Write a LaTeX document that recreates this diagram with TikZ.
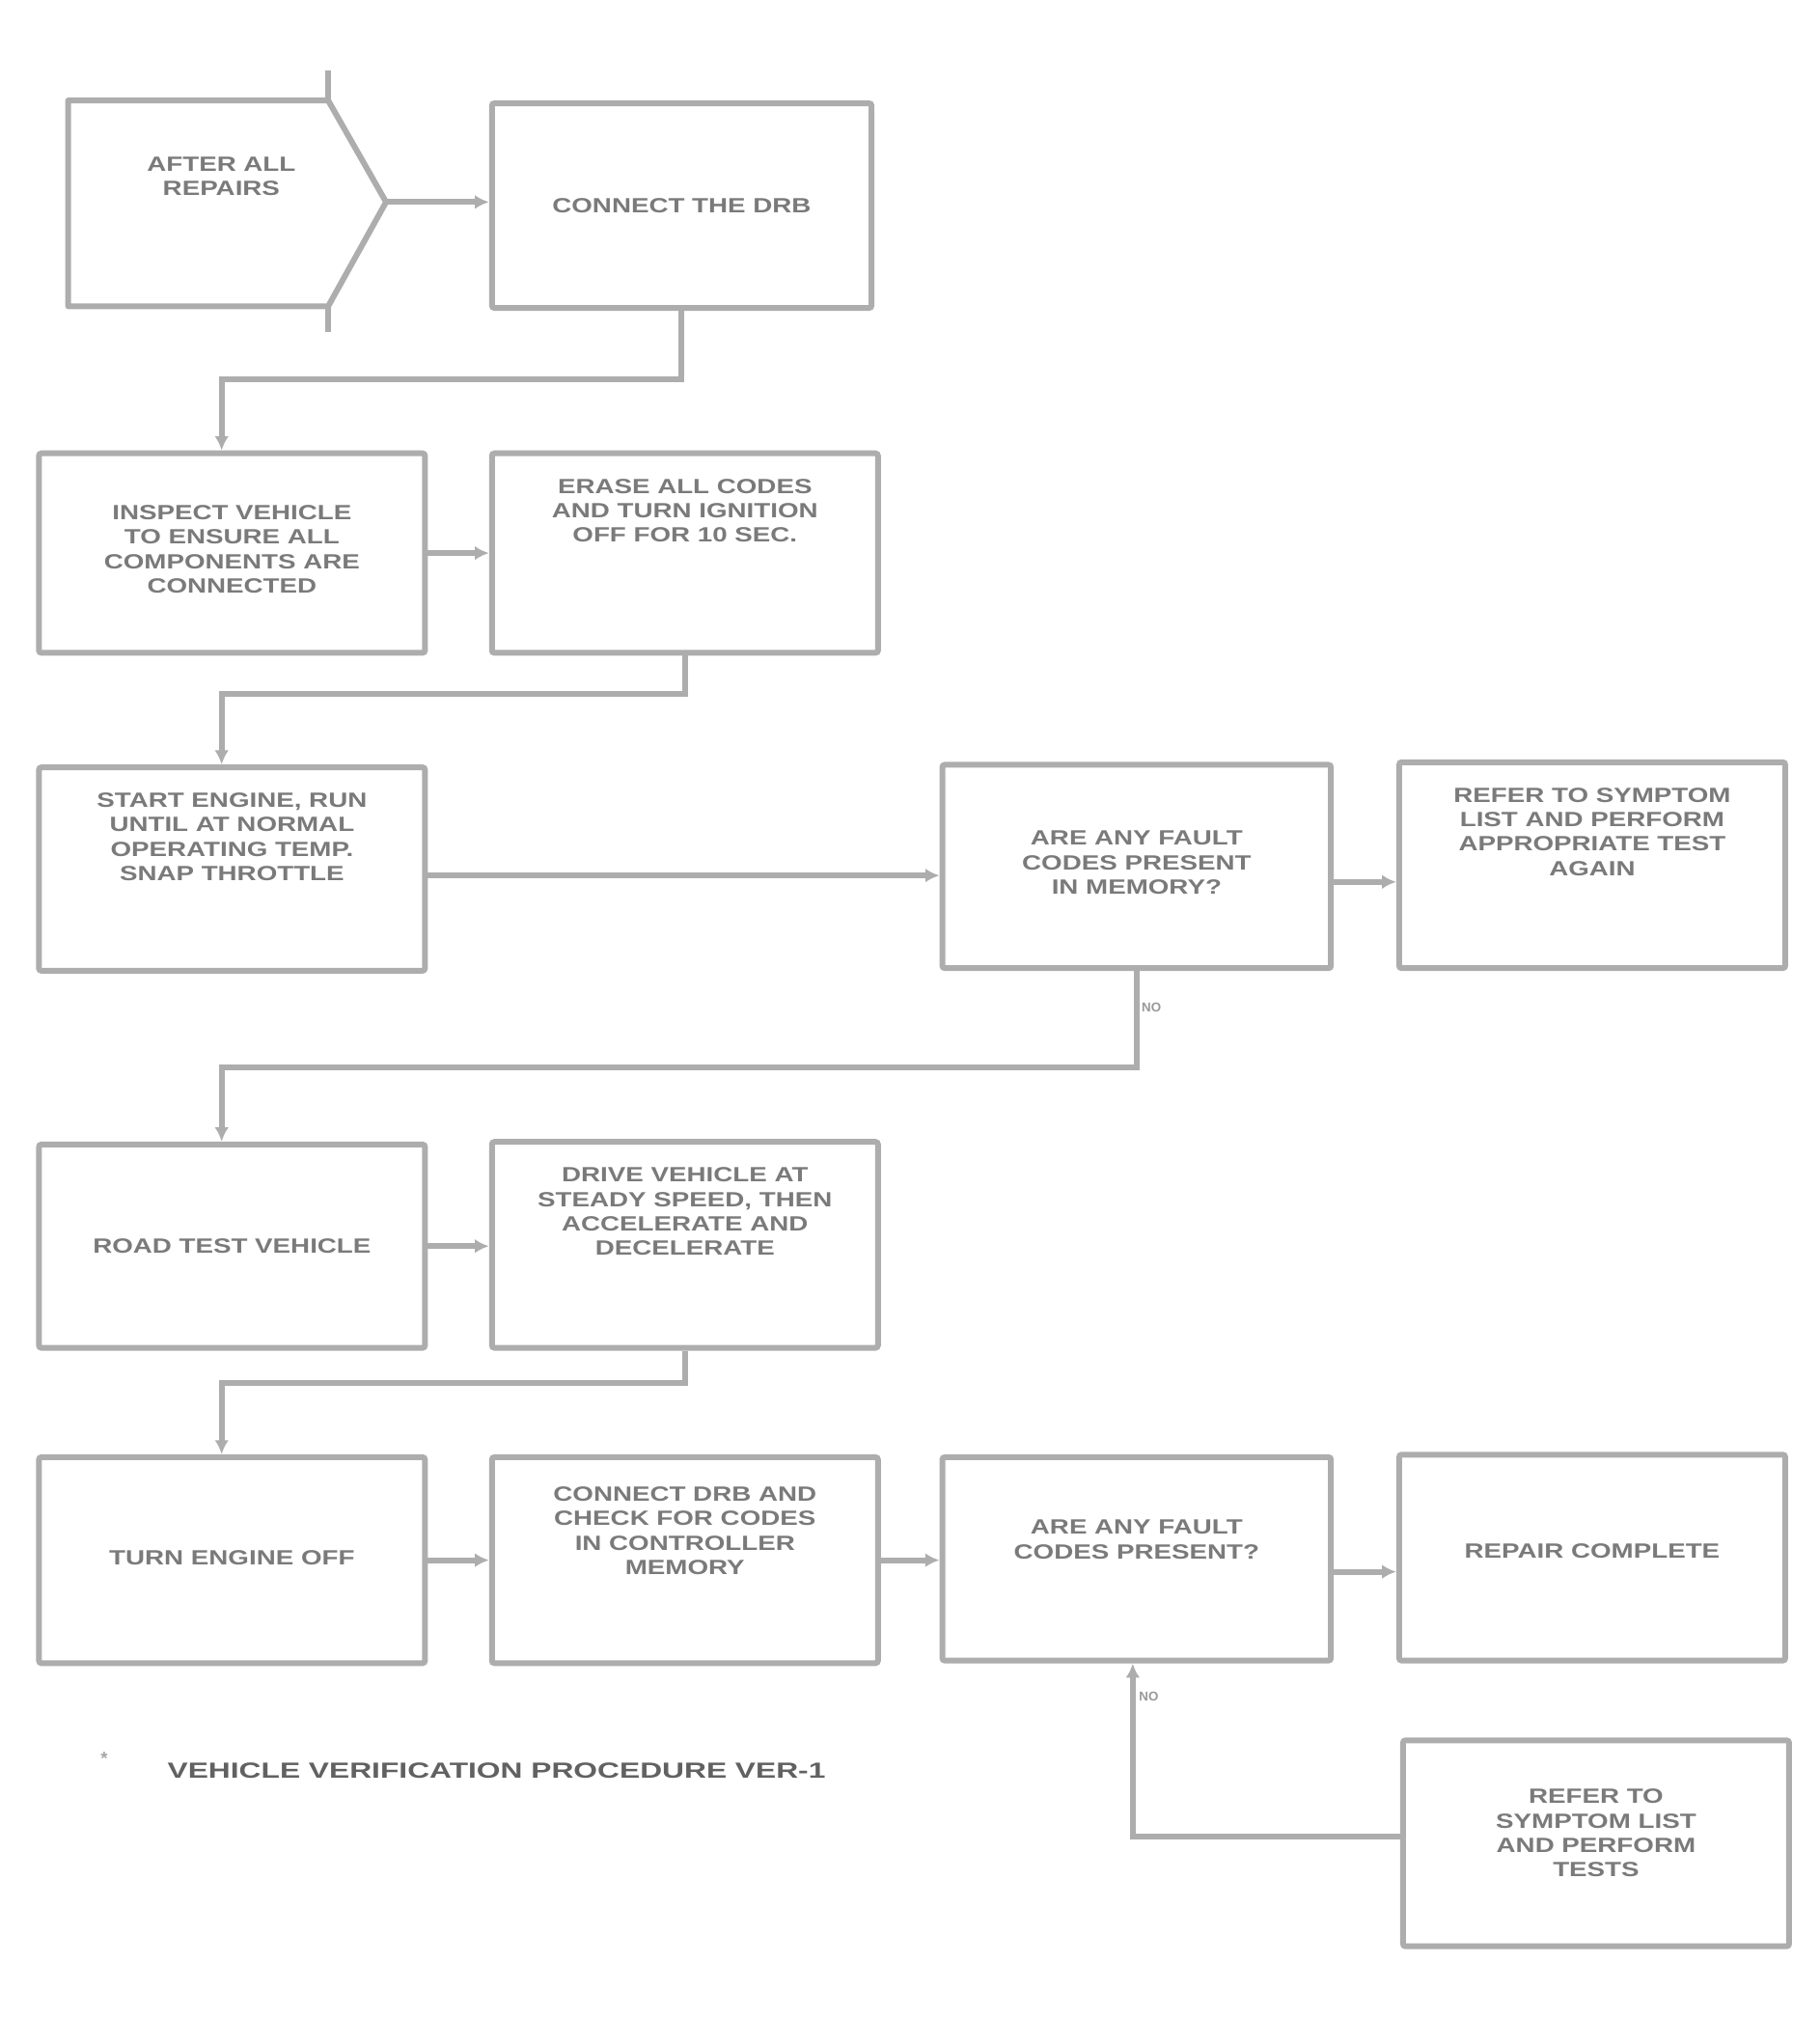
\documentclass[tikz,border=0pt]{standalone}
\usepackage{fontspec}
\setmainfont{Liberation Sans}
\newfontfamily\widefont[FakeStretch=1.3]{Liberation Sans}
\newfontfamily\capfont[FakeStretch=1.4]{Liberation Sans}
\usetikzlibrary{arrows.meta,calc}
\begin{document}
\begin{tikzpicture}[x=1pt,y=-1pt,
  frame/.style={draw=black!32, line width=4.5pt, rounded corners=2pt, minimum width=300pt, minimum height=157pt, inner sep=0pt, anchor=north west},
  txt/.style={font=\widefont\bfseries\fontsize{16}{19}\selectfont, text=black!52, align=center, inner sep=0pt},
  conn/.style={draw=black!32, line width=4.5pt, -{Latex[length=11pt,width=11pt]}},
  small/.style={font=\bfseries\fontsize{10}{11}\selectfont, text=black!40, inner sep=0pt}]
\useasboundingbox (0,0) rectangle (1414,1568);
% entry connector shape
\coordinate (pnw) at (53,78);
\coordinate (ptip) at (300,157);
\draw[draw=black!32, line width=4.5pt, line join=round] (255,78) -- (pnw) -- (53,238) -- (255,238) -- (ptip) -- cycle;
\draw[draw=black!32, line width=5pt] (255,55) -- (255,78) (255,238) -- (255,258);
\node[txt] (t1) at (172,137) {AFTER ALL\\REPAIRS};
% boxes
\node[frame, minimum width=295pt, minimum height=159pt] (b2) at (380,78) {};
\node[txt] (t2) at (b2.center) {CONNECT THE DRB};
\node[frame, minimum height=155pt] (b3) at (28,350) {};
\node[txt] at ($(b3.center)+(0,-3)$) (t3) {INSPECT VEHICLE\\TO ENSURE ALL\\COMPONENTS ARE\\CONNECTED};
\node[frame, minimum height=155pt] (b4) at (380,350) {};
\node[txt, anchor=north] at ($(b4.north)+(0,22)$) (t4) {ERASE ALL CODES\\AND TURN IGNITION\\OFF FOR 10 SEC.};
\node[frame, minimum height=158pt] (b5) at (28,594) {};
\node[txt, anchor=north] at ($(b5.north)+(0,22)$) (t5) {START ENGINE, RUN\\UNTIL AT NORMAL\\OPERATING TEMP.\\SNAP THROTTLE};
\node[frame, minimum width=302pt, minimum height=158pt] (b6) at (730,592) {};
\node[txt] at ($(b6.center)+(0,-3)$) (t6) {ARE ANY FAULT\\CODES PRESENT\\IN MEMORY?};
\node[frame, minimum height=160pt] (b7) at (1085,590) {};
\node[txt, anchor=north] at ($(b7.north)+(0,22)$) (t7) {REFER TO SYMPTOM\\LIST AND PERFORM\\APPROPRIATE TEST\\AGAIN};
\node[frame, minimum height=158pt] (b8) at (28,887) {};
\node[txt] at (b8.center) (t8) {ROAD TEST VEHICLE};
\node[frame, minimum height=160pt] (b9) at (380,885) {};
\node[txt, anchor=north] at ($(b9.north)+(0,22)$) (t9) {DRIVE VEHICLE AT\\STEADY SPEED, THEN\\ACCELERATE AND\\DECELERATE};
\node[frame, minimum height=160pt] (b10) at (28,1130) {};
\node[txt] at ($(b10.center)+(0,-2)$) (t10) {TURN ENGINE OFF};
\node[frame, minimum height=160pt] (b11) at (380,1130) {};
\node[txt, anchor=north] at ($(b11.north)+(0,25)$) (t11) {CONNECT DRB AND\\CHECK FOR CODES\\IN CONTROLLER\\MEMORY};
\node[frame, minimum width=302pt, minimum height=158pt] (b12) at (730,1130) {};
\node[txt] at ($(b12.center)+(0,-15)$) (t12) {ARE ANY FAULT\\CODES PRESENT?};
\node[frame, minimum height=160pt] (b13) at (1085,1128) {};
\node[txt] at ($(b13.center)+(0,-5)$) (t13) {REPAIR COMPLETE};
\node[frame, minimum height=160pt] (b14) at (1088,1350) {};
\node[txt] at ($(b14.center)+(0,-8)$) (t14) {REFER TO\\SYMPTOM LIST\\AND PERFORM\\TESTS};
% connectors
\draw[conn] (ptip) -- (ptip -| b2.west);
\draw[conn] (b2.south) -- ++(0,53) -| ([xshift=-8pt]b3.north);
\draw[conn] (b3.east) -- (b3.east -| b4.west);
\draw[conn] (b4.south) -- ++(0,30) -| ([xshift=-8pt]b5.north);
\draw[conn] ([yshift=-5pt]b5.east) -- ([yshift=-5pt]b5.east -| b6.west);
\draw[conn] ([yshift=-12pt]b6.east) -- ([yshift=-12pt]b6.east -| b7.west);
\draw[conn] (b6.south) -- ++(0,75) -| ([xshift=-8pt]b8.north);
\node[small, anchor=west] (l1) at (887,783) {NO};
\draw[conn] (b8.east) -- (b8.east -| b9.west);
\draw[conn] (b9.south) -- ++(0,25) -| ([xshift=-8pt]b10.north);
\draw[conn] (b10.east) -- (b10.east -| b11.west);
\draw[conn] (b11.east) -- (b11.east -| b12.west);
\draw[conn] ([yshift=-10pt]b12.east) -- ([yshift=-10pt]b12.east -| b13.west);
\draw[conn] ([yshift=5pt]b14.west) -| ([xshift=-3pt]b12.south);
\node[small, anchor=west] (l2) at (885,1318) {NO};
% caption
\node[anchor=west, inner sep=0pt, font=\bfseries\fontsize{14}{15}\selectfont, text=black!35] (star) at (78,1366) {*};
\node[anchor=west, inner sep=0pt, font=\capfont\bfseries\fontsize{17}{19}\selectfont, text=black!62] (cap) at (130,1376) {VEHICLE VERIFICATION PROCEDURE VER-1};
\end{tikzpicture}
\end{document}
